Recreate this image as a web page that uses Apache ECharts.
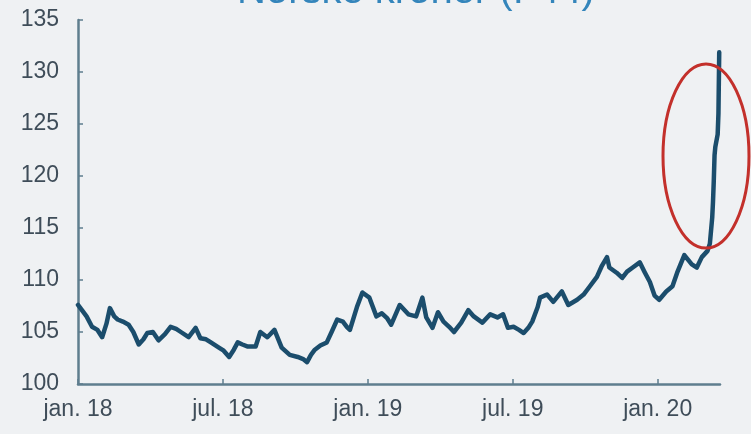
<!DOCTYPE html>
<html>
<head>
<meta charset="utf-8">
<script src="https://cdn.jsdelivr.net/npm/echarts@6/dist/echarts.min.js"></script>
<style>
html,body{margin:0;padding:0;background:#eff1f3;}
#chart{width:751px;height:434px;}
</style>
</head>
<body>
<div id="chart"></div>
<script>
const titleText = 'Norske kroner (I-44)';
const yTicks = [100, 105, 110, 115, 120, 125, 130, 135];
const xTickLabels = ['jan. 18', 'jul. 18', 'jan. 19', 'jul. 19', 'jan. 20'];
const dates = [
'2018-01-01','2018-01-07','2018-01-12','2018-01-19','2018-01-26','2018-02-01','2018-02-06','2018-02-10','2018-02-15','2018-02-19',
'2018-02-25','2018-03-04','2018-03-10','2018-03-17','2018-03-23','2018-03-28','2018-04-04','2018-04-11','2018-04-19','2018-04-26',
'2018-05-03','2018-05-09','2018-05-19','2018-05-28','2018-06-03','2018-06-10','2018-06-16','2018-06-26','2018-07-02','2018-07-09',
'2018-07-15','2018-07-20','2018-07-26','2018-08-02','2018-08-12','2018-08-18','2018-08-27','2018-09-05','2018-09-14','2018-09-24',
'2018-10-04','2018-10-11','2018-10-16','2018-10-21','2018-10-26','2018-11-02','2018-11-10','2018-11-16','2018-11-23','2018-11-30',
'2018-12-05','2018-12-09','2018-12-18','2018-12-25','2019-01-03','2019-01-12','2019-01-19','2019-01-26','2019-01-31','2019-02-10',
'2019-02-20','2019-03-01','2019-03-09','2019-03-14','2019-03-22','2019-03-29','2019-04-05','2019-04-12','2019-04-18','2019-04-27',
'2019-05-06','2019-05-13','2019-05-24','2019-06-03','2019-06-12','2019-06-19','2019-06-25','2019-07-02','2019-07-09','2019-07-15',
'2019-07-21','2019-07-26','2019-08-02','2019-08-05','2019-08-14','2019-08-22','2019-09-02','2019-09-10','2019-09-21','2019-09-29',
'2019-10-07','2019-10-16','2019-10-22','2019-10-29','2019-11-01','2019-11-10','2019-11-17','2019-11-23','2019-11-30','2019-12-09',
'2019-12-15','2019-12-22','2019-12-28','2020-01-03','2020-01-12','2020-01-20','2020-01-26','2020-02-04','2020-02-13','2020-02-19',
'2020-02-25','2020-03-03','2020-03-06','2020-03-09','2020-03-10','2020-03-11','2020-03-12','2020-03-13','2020-03-16','2020-03-17',
'2020-03-18'
];
const values = [
107.6,107.0,106.5,105.5,105.2,104.5,105.8,107.3,106.5,106.2,
106.0,105.7,105.0,103.8,104.3,104.9,105.0,104.2,104.8,105.5,
105.3,105.0,104.5,105.4,104.4,104.3,104.0,103.5,103.2,102.6,
103.3,104.0,103.8,103.6,103.6,105.0,104.5,105.2,103.5,102.8,
102.6,102.4,102.1,102.8,103.3,103.7,104.0,105.0,106.2,106.0,
105.5,105.2,107.4,108.8,108.3,106.5,106.8,106.3,105.7,107.6,
106.7,106.5,108.3,106.4,105.4,106.9,106.0,105.5,105.0,105.9,
107.1,106.5,105.9,106.7,106.4,106.7,105.4,105.5,105.2,104.9,
105.4,106.0,107.4,108.3,108.6,107.9,108.9,107.6,108.1,108.6,
109.4,110.3,111.3,112.2,111.2,110.7,110.2,110.8,111.2,111.7,
110.8,109.8,108.5,108.1,108.9,109.4,110.7,112.4,111.5,111.2,
112.2,112.8,113.5,116.0,117.5,119.5,122.0,122.8,124.0,126.0,
131.9
];
const axisEndDate = '2020-03-19';

function monthIndex(s) {
  const [y, m, d] = s.split('-').map(Number);
  const dim = new Date(y, m, 0).getDate();
  return (y - 2018) * 12 + (m - 1) + (d - 1) / dim;
}
const seriesData = dates.map((d, i) => [monthIndex(d), values[i]]);

const chart = echarts.init(document.getElementById('chart'));
const axisColor = '#5f7e8e';
const labelColor = '#3f4d59';
chart.setOption({
  backgroundColor: '#eff1f3',
  animation: false,
  title: {
    text: titleText,
    left: 232,
    top: -33,
    textStyle: { color: '#3485bb', fontSize: 40, fontWeight: 'normal', fontFamily: 'Liberation Sans' }
  },
  grid: { left: 78, right: 31, top: 20, bottom: 50, containLabel: false },
  xAxis: {
    type: 'value',
    min: 0,
    max: monthIndex(axisEndDate),
    interval: 6,
    axisLine: { show: true, lineStyle: { color: axisColor, width: 2.5 } },
    axisTick: { show: true, inside: true, length: 5, lineStyle: { color: axisColor, width: 1.5 } },
    splitLine: { show: false },
    axisLabel: {
      color: labelColor, fontSize: 23, fontFamily: 'Liberation Sans', margin: 14,
      showMaxLabel: false,
      formatter: v => xTickLabels[Math.round(v / 6)] || ''
    }
  },
  yAxis: {
    type: 'value',
    min: yTicks[0],
    max: yTicks[yTicks.length - 1],
    interval: 5,
    axisLine: { show: true, lineStyle: { color: axisColor, width: 2.5 } },
    axisTick: { show: true, inside: true, length: 5, lineStyle: { color: axisColor, width: 1.5 } },
    splitLine: { show: false },
    axisLabel: { color: labelColor, fontSize: 23, fontFamily: 'Liberation Sans', margin: 19 }
  },
  series: [{
    type: 'line',
    data: seriesData,
    symbol: 'none',
    smooth: false,
    lineStyle: { color: '#1b4d6c', width: 4.5, join: 'round', cap: 'round' },
    z: 3
  }],
  graphic: [{
    type: 'ellipse',
    shape: { cx: 706, cy: 156, rx: 43, ry: 92 },
    style: { fill: 'none', stroke: '#c3302b', lineWidth: 3 },
    z: 100
  }]
});
</script>
</body>
</html>
